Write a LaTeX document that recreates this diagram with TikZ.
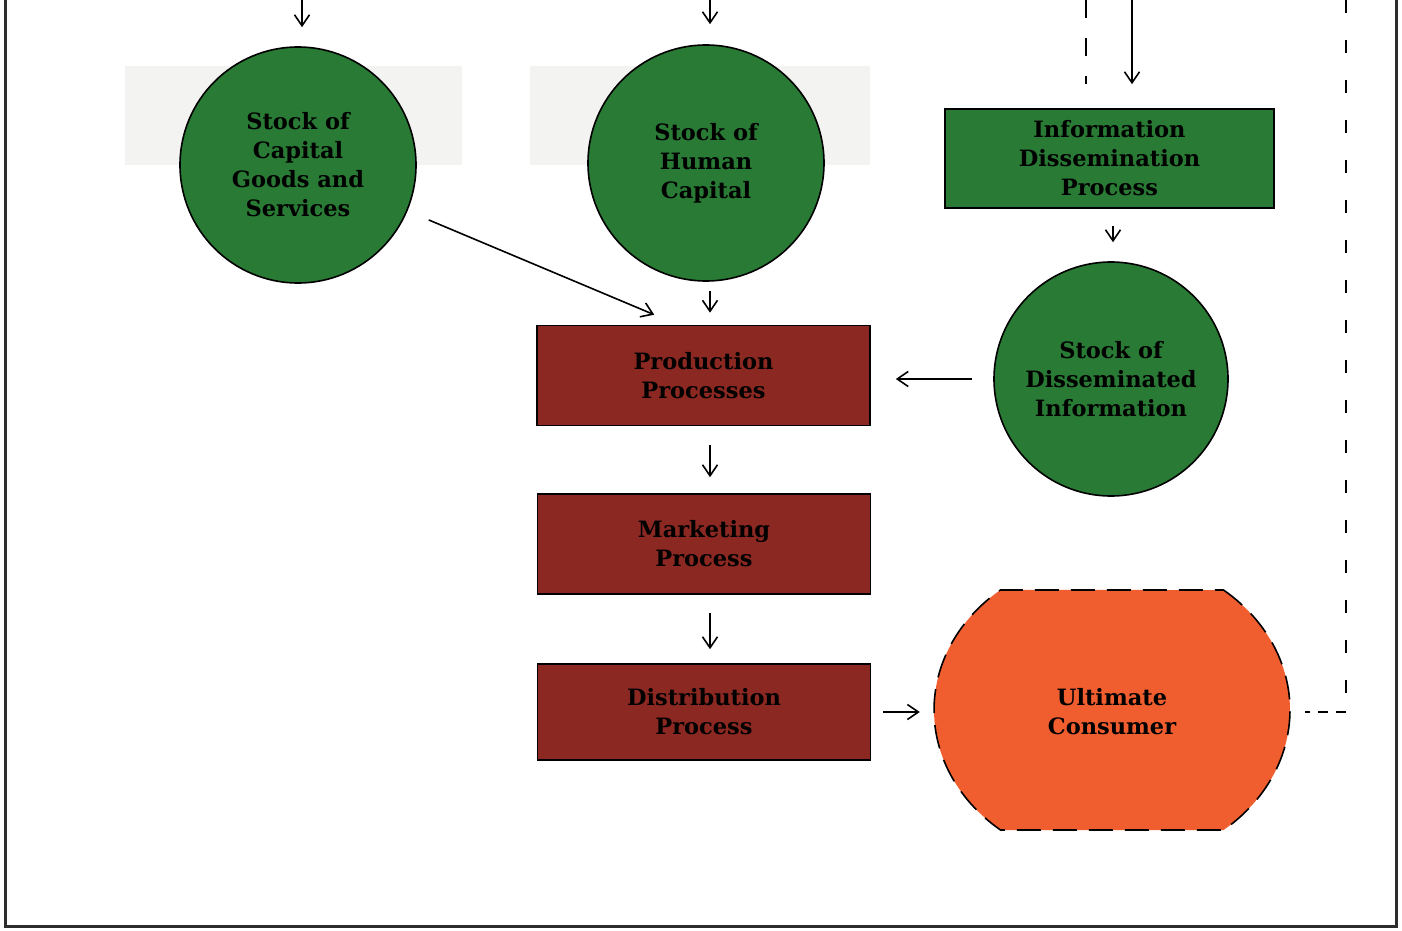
\documentclass[tikz,border=0pt]{standalone}
\usepackage{fontspec}
\setmainfont{DejaVu Serif}
\usetikzlibrary{arrows.meta,calc}
\definecolor{cgreen}{RGB}{40,122,52}
\definecolor{cbrown}{RGB}{139,40,34}
\definecolor{corange}{RGB}{240,94,48}
\definecolor{cframe}{RGB}{45,45,45}
\definecolor{cghost}{RGB}{243,243,241}
\begin{document}
\begin{tikzpicture}[x=1pt,y=-1pt,
  lbl/.style={font=\bfseries\fontsize{22.5}{29}\selectfont, align=center, text=black},
  stockcircle/.style={lbl, circle, draw=black, line width=1.6pt, fill=cgreen, minimum size=236pt, inner sep=0pt},
  procbox/.style={lbl, rectangle, draw=black, line width=1.6pt, fill=cbrown, minimum width=333pt, minimum height=100pt, inner sep=0pt},
  infobox/.style={lbl, rectangle, draw=black, line width=1.6pt, fill=cgreen, minimum width=329pt, minimum height=99pt, inner sep=0pt},
  arr/.style={line width=1.6pt, -{Straight Barb[length=11pt,width=15pt,line width=1.6pt]}},
  dashline/.style={line width=1.6pt, dash pattern=on 18pt off 20pt},
]
\useasboundingbox (0,0) rectangle (1402,931);
% faint background patches
\fill[cghost] (125,66) rectangle (462,165);
\fill[cghost] (530,66) rectangle (870,165);
% frame
\draw[cframe, line width=3pt] (5,0) -- (5,926) -- (1396,926) -- (1396,0);

% nodes
\node[stockcircle] (c1) at (298,165) {Stock of\\Capital\\Goods and\\Services};
\node[stockcircle] (c2) at (706,163) {Stock of\\Human\\Capital};
\node[infobox] (id) at (1109.5,158.5) {Information\\Dissemination\\Process};
\node[stockcircle, minimum size=234pt] (c3) at (1111,379) {Stock of\\Disseminated\\Information};
\node[procbox] (pp) at (703.5,375.5) {Production\\Processes};
\node[procbox] (mk) at (704,544) {Marketing\\Process};
\node[procbox, minimum height=96pt] (ds) at (704,712) {Distribution\\Process};

% ultimate consumer (clipped ellipse)
\draw[fill=corange, line width=1.6pt, dash pattern=on 24pt off 12pt]
  (1223.5,590) arc[start angle=-51.2, end angle=51.2, x radius=178, y radius=154]
  -- (1000.5,830) arc[start angle=128.8, end angle=231.2, x radius=178, y radius=154]
  -- cycle;
\node[lbl, minimum width=356pt, minimum height=240pt, inner sep=0pt] (uc) at (1112,712) {Ultimate\\Consumer};

% free ends
\coordinate (t1) at (302,0);
\coordinate (t2) at (710,0);
\coordinate (t3) at (1132,0);
\coordinate (td) at (1086,0);
\coordinate (tr) at (1346,0);
\coordinate (ppin) at ([xshift=118pt,yshift=10pt]pp.north west);

% connectors
\draw[arr, shorten >=19pt] (t1) -- (t1 |- c1.north);
\draw[arr, shorten >=20pt] (t2) -- (t2 |- c2.north);
\draw[arr, shorten >=24pt] (t3) -- (t3 |- id.north);
\draw[dashline] (td) -- ([yshift=24pt]td |- id.north);
\draw[arr, shorten <=17pt, shorten >=19pt] ([xshift=3.5pt]id.south) -- ([xshift=3.5pt]id.south |- c3.north);
\draw[arr, shorten <=23pt] (c1) -- (ppin);
\draw[arr, shorten <=9pt, shorten >=12pt] ([xshift=4pt]c2.south) -- ([xshift=4pt]c2.south |- pp.north);
\draw[arr, shorten <=21pt, shorten >=25pt] (c3.west) -- (c3.west -| pp.east);
\draw[arr, shorten <=19pt, shorten >=16pt] ([xshift=6.5pt]pp.south) -- ([xshift=6.5pt]pp.south |- mk.north);
\draw[arr, shorten <=18pt, shorten >=14pt] ([xshift=6pt]mk.south) -- ([xshift=6pt]mk.south |- ds.north);
\draw[arr, shorten <=12pt, shorten >=14pt] (ds.east) -- (ds.east -| uc.west);
\draw[line width=1.6pt, dash pattern=on 13pt off 27pt] (tr) -- (tr |- uc.east);
\draw[line width=1.6pt, dash pattern=on 10pt off 8pt] (tr |- uc.east) -- ([xshift=15pt]uc.east);
\end{tikzpicture}
\end{document}
